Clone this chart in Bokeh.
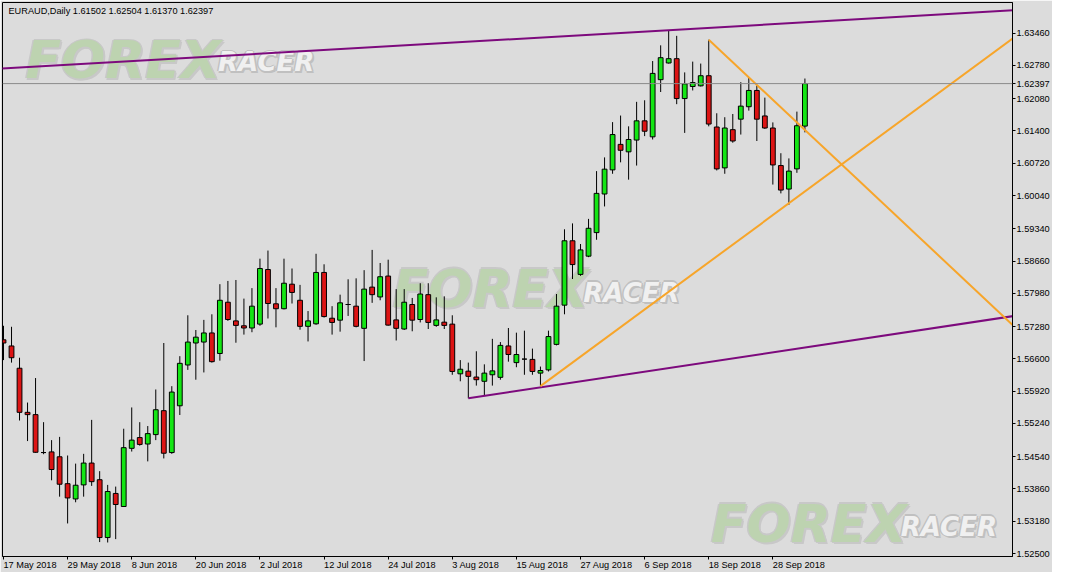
import numpy as np
from bokeh.plotting import figure
from bokeh.models import (Range1d, FixedTicker, PrintfTickFormatter, Span, Label,
                          ColumnDataSource, LinearAxis)
from bokeh.core.properties import value
from bokeh.embed import file_html
from bokeh.resources import INLINE

# ---------------- data ----------------
chart_title = "EURAUD,Daily  1.61502 1.62504 1.61370 1.62397"

opens = [1.57002, 1.56872, 1.56403, 1.55474, 1.55426, 1.54627, 1.54641, 1.54538, 1.53972, 1.53650,
         1.53946, 1.54406, 1.54055, 1.52837, 1.53766, 1.53491, 1.54716, 1.54943, 1.54807, 1.55005,
         1.55509, 1.54627, 1.55612, 1.56471, 1.56934, 1.56954, 1.57146, 1.56713, 1.57793, 1.57400,
         1.57297, 1.57250, 1.57332, 1.58482, 1.57760, 1.57656, 1.58173, 1.57834, 1.57285, 1.57338,
         1.58420, 1.57456, 1.57415, 1.57745, 1.57710, 1.57243, 1.58111, 1.57904, 1.58344, 1.57421,
         1.57229, 1.57745, 1.57429, 1.57952, 1.57305, 1.57373, 1.57332, 1.56285, 1.56341, 1.56217,
         1.56128, 1.56265, 1.56211, 1.56872, 1.56521, 1.56595, 1.56589, 1.56300, 1.56368, 1.56905,
         1.57731, 1.59087, 1.58379, 1.58763, 1.59259, 1.60072, 1.60580, 1.61117, 1.60960, 1.61208,
         1.61613, 1.61276, 1.62480, 1.62831, 1.62922, 1.62082, 1.62336, 1.62350, 1.62563, 1.61483,
         1.60622, 1.61427, 1.61648, 1.61910, 1.62253, 1.61716, 1.61462, 1.60671, 1.60176, 1.60601,
         1.61502]
highs = [1.57297, 1.57276, 1.56624, 1.55680, 1.56196, 1.55267, 1.54889, 1.54957, 1.54565, 1.54394,
         1.54600, 1.55315, 1.54235, 1.53946, 1.53910, 1.55129, 1.55577, 1.55267, 1.55185, 1.55955,
         1.56934, 1.56025, 1.56657, 1.57518, 1.57208, 1.57421, 1.57539, 1.58173, 1.58241, 1.58261,
         1.57869, 1.58090, 1.58710, 1.58881, 1.58090, 1.58710, 1.58503, 1.58158, 1.57607, 1.58813,
         1.58592, 1.57710, 1.57952, 1.58276, 1.58296, 1.58468, 1.58895, 1.58619, 1.58689, 1.58069,
         1.58069, 1.57883, 1.58193, 1.58193, 1.57896, 1.57917, 1.57518, 1.56574, 1.56521, 1.56760,
         1.56485, 1.57022, 1.56954, 1.57250, 1.57152, 1.57194, 1.56816, 1.56438, 1.57194, 1.57966,
         1.59329, 1.59453, 1.59019, 1.59548, 1.60554, 1.60843, 1.61586, 1.61724, 1.61497, 1.62013,
         1.62046, 1.62872, 1.63203, 1.63506, 1.63403, 1.62633, 1.62860, 1.62819, 1.63321, 1.61772,
         1.61689, 1.61757, 1.62427, 1.62530, 1.62356, 1.62102, 1.61580, 1.60931, 1.60822, 1.61807,
         1.62504]
lows = [1.56574, 1.56521, 1.55302, 1.54869, 1.54625, 1.54592, 1.54043, 1.53698, 1.53134, 1.53580,
        1.53698, 1.53925, 1.52742, 1.52733, 1.52804, 1.53485, 1.54648, 1.54772, 1.54441, 1.54889,
        1.54503, 1.54600, 1.55418, 1.56368, 1.56161, 1.56314, 1.56521, 1.56562, 1.57400, 1.56940,
        1.57111, 1.57161, 1.57297, 1.57450, 1.57264, 1.57642, 1.57766, 1.57214, 1.56967, 1.57318,
        1.57470, 1.57111, 1.57173, 1.57504, 1.57264, 1.56554, 1.57780, 1.57834, 1.57300, 1.56987,
        1.57208, 1.57181, 1.57367, 1.57229, 1.57276, 1.57229, 1.56265, 1.56128, 1.55769, 1.56037,
        1.55818, 1.56037, 1.56161, 1.56541, 1.56424, 1.56265, 1.56265, 1.56025, 1.56335, 1.56884,
        1.57539, 1.58282, 1.58350, 1.58742, 1.59108, 1.59810, 1.60498, 1.60739, 1.60374, 1.60671,
        1.61291, 1.61220, 1.62220, 1.62819, 1.61964, 1.61359, 1.62253, 1.62336, 1.61497, 1.60568,
        1.60498, 1.61152, 1.61324, 1.61828, 1.61188, 1.61442, 1.60271, 1.60085, 1.59845, 1.60518,
        1.61370]
closes = [1.56934, 1.56624, 1.55474, 1.55426, 1.54633, 1.54627, 1.54270, 1.53960, 1.53671, 1.53939,
          1.54406, 1.54014, 1.52837, 1.53807, 1.53533, 1.54730, 1.54889, 1.54798, 1.55026, 1.55529,
          1.54613, 1.55901, 1.56506, 1.56954, 1.57057, 1.57146, 1.56541, 1.57834, 1.57429, 1.57305,
          1.57250, 1.57710, 1.58503, 1.57766, 1.57656, 1.58193, 1.57999, 1.57285, 1.57400, 1.58420,
          1.57491, 1.57367, 1.57780, 1.57745, 1.57285, 1.58069, 1.57952, 1.58330, 1.57311, 1.57243,
          1.57793, 1.57415, 1.57966, 1.57367, 1.57421, 1.57305, 1.56335, 1.56382, 1.56232, 1.56161,
          1.56300, 1.56347, 1.56884, 1.56692, 1.56692, 1.56595, 1.56335, 1.56355, 1.57070, 1.57710,
          1.59087, 1.58586, 1.58895, 1.59350, 1.60085, 1.60595, 1.61324, 1.60993, 1.61220, 1.61613,
          1.61394, 1.62612, 1.62943, 1.62922, 1.62082, 1.62391, 1.62418, 1.62563, 1.61545, 1.60601,
          1.61462, 1.61188, 1.61923, 1.62253, 1.61648, 1.61462, 1.60684, 1.60155, 1.60554, 1.61510,
          1.62397]

date_tick_bars = [0, 8, 16, 24, 32, 40, 48, 56, 64, 72, 80, 88, 96]
date_tick_labels = ["17 May 2018", "29 May 2018", "8 Jun 2018", "20 Jun 2018", "2 Jul 2018",
                    "12 Jul 2018", "24 Jul 2018", "3 Aug 2018", "15 Aug 2018", "27 Aug 2018",
                    "6 Sep 2018", "18 Sep 2018", "28 Sep 2018"]
price_ticks = [1.52500, 1.53180, 1.53860, 1.54540, 1.55240, 1.55920, 1.56600, 1.57280, 1.57980,
               1.58660, 1.59340, 1.60040, 1.60720, 1.61400, 1.62080, 1.62780, 1.63460]
last_price = 1.62397

# trend lines (bar index, price)
purple_top_x = [-2, 130]
purple_top_y = [1.62697, 1.63980]
purple_low_x = [58, 130]
purple_low_y = [1.55769, 1.57603]
orange_up_x = [67, 130]
orange_up_y = [1.56025, 1.63851]
orange_down_x = [88, 130]
orange_down_y = [1.63321, 1.56666]

# ---------------- geometry / style ----------------
W, H = 1052, 572
B_LEFT, B_TOP, B_RIGHT, B_BOTTOM = 2, 2, 38, 15
FRAME_W = W - B_LEFT - B_RIGHT
FRAME_H = H - B_TOP - B_BOTTOM
PX_PER_BAR = 8.03
X0 = -0.125
X1 = X0 + FRAME_W / PX_PER_BAR
Y0, Y1 = 1.52438, 1.64105


def bar_c(cx):  # canvas x -> bar coordinate
    return X0 + (cx - B_LEFT) / PX_PER_BAR


def price_c(cy):  # canvas y -> price coordinate
    return Y1 - (cy - B_TOP) * (Y1 - Y0) / FRAME_H


BG = "#dcdcdc"
BULL = "#14e614"
BEAR = "#dc1414"
FONT = "Liberation Sans"
WM_FONT = "DejaVu Sans"
FS_PX = 9.2
FS = f"{FS_PX}px"

# approximate advance widths (em) of the UI font, used to left-align date labels
ADV = {" ": 0.278, "M": 0.833, "a": 0.556, "y": 0.5, "J": 0.5, "u": 0.556, "n": 0.556,
       "l": 0.222, "A": 0.667, "g": 0.556, "S": 0.667, "e": 0.556, "p": 0.556}


def text_w(t):
    return sum(ADV.get(ch, 0.556) for ch in t) * FS_PX


p = figure(width=W, height=H, output_backend="svg", toolbar_location=None,
           x_range=Range1d(X0, X1), y_range=Range1d(Y0, Y1),
           y_axis_location="right", x_axis_location="below")
p.min_border = 0
p.min_border_left = B_LEFT
p.min_border_top = B_TOP
p.min_border_bottom = B_BOTTOM
p.min_border_right = B_RIGHT
p.background_fill_color = BG
p.border_fill_color = BG
p.outline_line_color = "black"
p.outline_line_width = 1
p.xgrid.visible = False
p.ygrid.visible = False

# watermarks (background, fixed on screen)
wm_forex_x = [bar_c(25), bar_c(393), bar_c(712)]
wm_forex_y = [price_c(60), price_c(289), price_c(524)]
wm_racer_x = [bar_c(218), bar_c(584), bar_c(902)]
wm_racer_y = [price_c(62), price_c(293), price_c(527)]
for dx, dy in [(-1.5, 0), (1.5, 0), (0, -1.5), (0, 1.5), (2, 2)]:
    p.text(x=wm_forex_x, y=wm_forex_y, text=["FOREX"] * 3, text_font=value(WM_FONT),
           text_font_style="bold italic", text_font_size="52px", text_color="#c8c8c8",
           text_baseline="middle", x_offset=dx, y_offset=dy)
    p.text(x=wm_racer_x, y=wm_racer_y, text=["RACER"] * 3, text_font=value(WM_FONT),
           text_font_style="bold italic", text_font_size="26px", text_color="#c0c0c0",
           text_baseline="middle", x_offset=dx, y_offset=dy)
p.text(x=wm_forex_x, y=wm_forex_y, text=["FOREX"] * 3, text_font=value(WM_FONT),
       text_font_style="bold italic", text_font_size="52px", text_color="#bdd3b0",
       text_baseline="middle")
p.text(x=wm_racer_x, y=wm_racer_y, text=["RACER"] * 3, text_font=value(WM_FONT),
       text_font_style="bold italic", text_font_size="26px", text_color="#f0f0f0",
       text_baseline="middle")

# candles
o = np.array(opens); h = np.array(highs); l = np.array(lows); c = np.array(closes)
idx = np.arange(len(o))
colors = np.where(c > o, BULL, np.where(c < o, BEAR, "black"))
src = ColumnDataSource(dict(x=idx, top=np.maximum(o, c), bottom=np.minimum(o, c),
                            high=h, low=l, color=colors))
p.segment(x0="x", y0="high", x1="x", y1="low", source=src, line_color="black", line_width=1)
p.vbar(x="x", width=0.6, top="top", bottom="bottom", fill_color="color",
       line_color="black", line_width=1, source=src)

# current price line
p.add_layout(Span(location=last_price, dimension="width", line_color="#8a8a8a", line_width=1))

# trend lines
p.line(purple_top_x, purple_top_y, line_color="#7d0a7d", line_width=2)
p.line(purple_low_x, purple_low_y, line_color="#7d0a7d", line_width=2)
p.line(orange_up_x, orange_up_y, line_color="#f7a52a", line_width=2)
p.line(orange_down_x, orange_down_y, line_color="#f7a52a", line_width=2)

# right price axis (includes the current price)
ya = p.yaxis[0]
ya.ticker = FixedTicker(ticks=price_ticks + [last_price])
ya.formatter = PrintfTickFormatter(format="%.5f")
ya.major_tick_out = 3
ya.major_tick_in = 0
ya.minor_tick_out = 0
ya.minor_tick_in = 0
ya.major_label_standoff = 1
ya.axis_line_color = "black"
ya.major_tick_line_color = "black"
ya.major_label_text_font = FONT
ya.major_label_text_font_size = FS
ya.major_label_text_color = "black"

# bottom axis 1: tick marks at the labelled bars
xa = p.xaxis[0]
xa.ticker = FixedTicker(ticks=date_tick_bars)
xa.major_label_overrides = {b: "" for b in date_tick_bars}
xa.major_label_text_font_size = "1px"
xa.major_label_standoff = 0
xa.major_tick_out = 3
xa.major_tick_in = 0
xa.minor_tick_out = 0
xa.minor_tick_in = 0
xa.axis_line_color = "black"
xa.major_tick_line_color = "black"

# bottom axis 2: date texts, starting at their tick (left aligned)
label_pos = [round(b + text_w(t) / 2.0 / PX_PER_BAR, 4)
             for b, t in zip(date_tick_bars, date_tick_labels)]
xa2 = LinearAxis(ticker=FixedTicker(ticks=label_pos),
                 major_label_overrides={pos: t for pos, t in zip(label_pos, date_tick_labels)})
xa2.axis_line_color = None
xa2.major_tick_line_color = None
xa2.major_tick_out = 0
xa2.major_tick_in = 0
xa2.minor_tick_out = 0
xa2.minor_tick_in = 0
xa2.major_label_standoff = 0
xa2.major_label_text_font = FONT
xa2.major_label_text_font_size = FS
xa2.major_label_text_color = "black"
p.add_layout(xa2, "below")

# title
p.add_layout(Label(x=bar_c(8), y=price_c(10.5), text=chart_title, text_font=FONT,
                   text_font_size=FS, text_color="black", text_align="left",
                   text_baseline="middle"))

open("out.html", "w").write(file_html(p, INLINE))
